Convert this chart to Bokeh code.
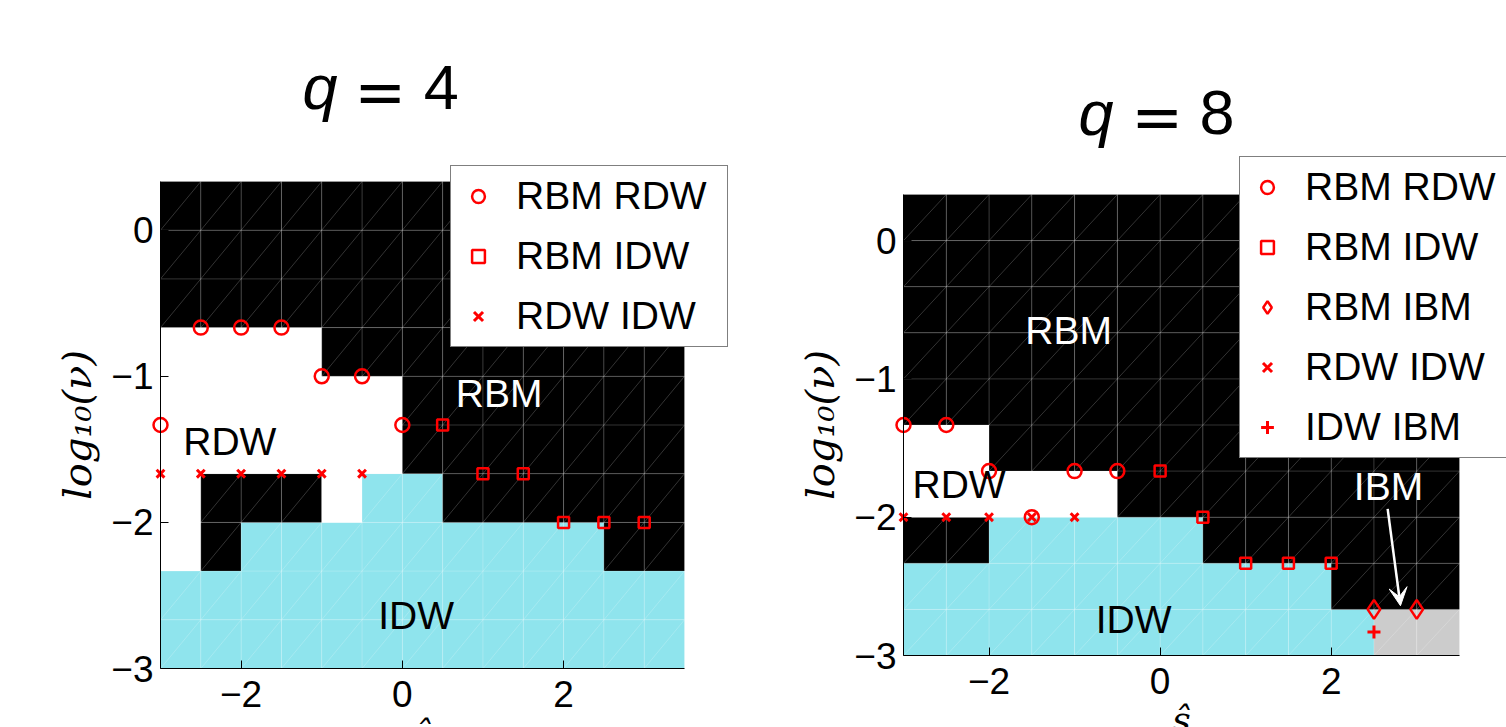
from bokeh.plotting import figure
from bokeh.layouts import row
from bokeh.models import (Range1d, FixedTicker, Legend, LegendItem, Label,
                          Arrow, VeeHead)
from bokeh.embed import file_html
from bokeh.resources import INLINE

# ---------------- data ----------------
x_edges = [-3.0, -2.5, -2.0, -1.5, -1.0, -0.5, 0.0, 0.5, 1.0, 1.5, 2.0, 2.5, 3.0, 3.5]
y_edges = [-3.0, -8/3, -7/3, -2.0, -5/3, -4/3, -1.0, -2/3, -1/3, 0.0, 1/3]

phase_colors = {"B": "#000000", "W": "#ffffff", "C": "#8fe4ed", "G": "#cccccc"}

# phase of each cell, rows listed from bottom (y=-3) to top; B=RBM W=RDW C=IDW G=IBM
q4_phase_rows = [
    "CCCCCCCCCCCCC",
    "CCCCCCCCCCCCC",
    "WBCCCCCCCCCBB",
    "WBBBWCCBBBBBB",
    "WWWWWWBBBBBBB",
    "WWWWWWBBBBBBB",
    "WWWWBBBBBBBBB",
    "BBBBBBBBBBBBB",
    "BBBBBBBBBBBBB",
    "BBBBBBBBBBBBB",
]
q8_phase_rows = [
    "CCCCCCCCCCCGG",
    "CCCCCCCCCCBBB",
    "BBCCCCCBBBBBB",
    "WWWWWBBBBBBBB",
    "WWBBBBBBBBBBB",
    "BBBBBBBBBBBBB",
    "BBBBBBBBBBBBB",
    "BBBBBBBBBBBBB",
    "BBBBBBBBBBBBB",
    "BBBBBBBBBBBBB",
]

# transition points, q = 4
q4_rbm_rdw_x = [-2.5, -2.0, -1.5, -1.0, -0.5, -3.0, 0.0]
q4_rbm_rdw_y = [-2/3, -2/3, -2/3, -1.0, -1.0, -4/3, -4/3]
q4_rbm_idw_x = [0.5, 1.0, 1.5, 2.0, 2.5, 3.0]
q4_rbm_idw_y = [-4/3, -5/3, -5/3, -2.0, -2.0, -2.0]
q4_rdw_idw_x = [-3.0, -2.5, -2.0, -1.5, -1.0, -0.5]
q4_rdw_idw_y = [-5/3, -5/3, -5/3, -5/3, -5/3, -5/3]

# transition points, q = 8
q8_rbm_rdw_x = [-3.0, -2.5, -2.0, -1.0, -0.5, -1.5]
q8_rbm_rdw_y = [-4/3, -4/3, -5/3, -5/3, -5/3, -2.0]
q8_rbm_idw_x = [0.0, 0.5, 1.0, 1.5, 2.0]
q8_rbm_idw_y = [-5/3, -2.0, -7/3, -7/3, -7/3]
q8_rbm_ibm_x = [2.5, 3.0]
q8_rbm_ibm_y = [-8/3, -8/3]
q8_rdw_idw_x = [-3.0, -2.5, -2.0, -1.5, -1.0]
q8_rdw_idw_y = [-2.0, -2.0, -2.0, -2.0, -2.0]
q8_idw_ibm_x = [2.5]
q8_idw_ibm_y = [-2.83]

x_ticks = [-2, 0, 2]
y_ticks = [-3, -2, -1, 0]
x_tick_labels = {-2: "\u22122", 0: "0", 2: "2"}
y_tick_labels = {-3: "\u22123", -2: "\u22122", -1: "\u22121", 0: "0"}

SANS = "Liberation Sans"
SERIF = "DejaVu Serif"
RED = "#ff0000"


def make_panel(width, height, box):
    """box = (left, top, right, bottom) pixel position of the data area."""
    bl, bt, br, bb = box
    xs = (x_edges[-1] - x_edges[0]) / (br - bl)
    ys = (y_edges[-1] - y_edges[0]) / (bb - bt)
    xr = Range1d(x_edges[0] - bl * xs, x_edges[-1] + (width - br) * xs)
    yr = Range1d(y_edges[0] - (height - bb) * ys, y_edges[-1] + bt * ys)
    p = figure(width=width, height=height, frame_width=width, frame_height=height,
               min_border=0, x_range=xr, y_range=yr,
               output_backend="svg", toolbar_location=None)
    p.title.visible = False
    p.outline_line_color = None
    p.grid.visible = False
    p.background_fill_color = "white"
    p.border_fill_color = "white"
    return p


def draw_cells(p, rows):
    L, R, Bt, T, Cc = [], [], [], [], []
    for j, rowstr in enumerate(rows):
        for i, ch in enumerate(rowstr):
            L.append(x_edges[i]); R.append(x_edges[i + 1])
            Bt.append(y_edges[j]); T.append(y_edges[j + 1])
            Cc.append(phase_colors[ch])
    p.quad(left=L, right=R, bottom=Bt, top=T, fill_color=Cc, line_color=None)

    sx0, sy0, sx1, sy1 = [], [], [], []
    for xe in x_edges:
        sx0.append(xe); sx1.append(xe); sy0.append(y_edges[0]); sy1.append(y_edges[-1])
    for ye in y_edges:
        sy0.append(ye); sy1.append(ye); sx0.append(x_edges[0]); sx1.append(x_edges[-1])
    for i in range(len(x_edges) - 1):
        for j in range(len(y_edges) - 1):
            sx0.append(x_edges[i]); sy0.append(y_edges[j])
            sx1.append(x_edges[i + 1]); sy1.append(y_edges[j + 1])
    p.segment(x0=sx0, y0=sy0, x1=sx1, y1=sy1, line_color="white",
              line_alpha=0.2, line_width=1)


def style_axes(p):
    for ax in (p.xaxis[0], p.yaxis[0]):
        ax.fixed_location = -3
        ax.axis_line_color = "black"
        ax.axis_line_width = 1
        ax.major_tick_in = 8
        ax.major_tick_out = 0
        ax.minor_tick_line_color = None
        ax.major_tick_line_color = "black"
        ax.major_label_text_font = SANS
        ax.major_label_text_font_size = "37px"
        ax.major_label_text_color = "black"
    p.xaxis.bounds = (x_edges[0], x_edges[-1])
    p.yaxis.bounds = (y_edges[0], y_edges[-1])
    p.xaxis.ticker = FixedTicker(ticks=x_ticks)
    p.xaxis.major_label_overrides = x_tick_labels
    p.xaxis.major_label_standoff = 12
    p.yaxis.ticker = FixedTicker(ticks=y_ticks)
    p.yaxis.major_label_overrides = y_tick_labels
    p.yaxis.major_label_standoff = 7
    p.yaxis.axis_label = "log\u2081\u2080(\u03bd)"
    p.yaxis.axis_label_text_font = SERIF
    p.yaxis.axis_label_text_font_style = "italic"
    p.yaxis.axis_label_text_font_size = "40px"
    p.yaxis.axis_label_text_color = "black"
    p.yaxis.axis_label_standoff = 8


def add_text(p, x, y, text, color, size="39px", font=SANS, style="normal",
             baseline="middle"):
    p.add_layout(Label(x=x, y=y, text=text, text_color=color, text_font=font,
                       text_font_size=size, text_font_style=style,
                       text_align="center", text_baseline=baseline))


def add_title(p, xq, xeq, xn, y, dy_eq, num):
    add_text(p, xq, y, "q", "black", size="63px", style="italic", baseline="alphabetic")
    add_text(p, xeq, y - dy_eq, "=", "black", size="62px", font="DejaVu Sans",
             baseline="alphabetic")
    add_text(p, xn, y, num, "black", size="63px", baseline="alphabetic")


def style_legend(leg):
    leg.label_text_font = SANS
    leg.label_text_font_size = "39px"
    leg.label_text_color = "black"
    leg.glyph_width = 38
    leg.glyph_height = 32
    leg.label_standoff = 19
    leg.label_width = 203
    leg.padding = 8
    leg.spacing = 16
    leg.margin = 0
    leg.border_line_color = "black"
    leg.border_line_width = 1
    leg.background_fill_color = "white"
    leg.background_fill_alpha = 1.0


# ---------------- q = 4 ----------------
p1 = make_panel(760, 727, (160, 181, 684, 668))
draw_cells(p1, q4_phase_rows)
style_axes(p1)
r_a = p1.scatter(q4_rbm_rdw_x, q4_rbm_rdw_y, marker="circle", size=14,
                 fill_color=None, line_color=RED, line_width=2.5)
r_b = p1.scatter(q4_rbm_idw_x, q4_rbm_idw_y, marker="square", size=11,
                 fill_color=None, line_color=RED, line_width=2.5)
r_c = p1.scatter(q4_rdw_idw_x, q4_rdw_idw_y, marker="x", size=11,
                 line_color=RED, line_width=3)
leg1 = Legend(items=[LegendItem(label="RBM RDW", renderers=[r_a]),
                     LegendItem(label="RBM IDW", renderers=[r_b]),
                     LegendItem(label="RDW IDW", renderers=[r_c])],
              location=(450, 380))
style_legend(leg1)
p1.add_layout(leg1)

add_text(p1, -2.14, -1.445, "RDW", "black")
add_text(p1, 1.20, -1.117, "RBM", "white")
add_text(p1, 0.17, -2.64, "IDW", "black")
add_title(p1, -1.02, -0.273, 0.484, 0.979, 0.034, "4")
# x label (mostly below the window, as in the original)
add_text(p1, 0.25, -3.445, "\u015d", "black", size="36px", font=SERIF, style="italic",
         baseline="alphabetic")

# ---------------- q = 8 ----------------
p2 = make_panel(746, 727, (143, 194, 699, 655))
draw_cells(p2, q8_phase_rows)
style_axes(p2)
s_a = p2.scatter(q8_rbm_rdw_x, q8_rbm_rdw_y, marker="circle", size=14,
                 fill_color=None, line_color=RED, line_width=2.5)
s_b = p2.scatter(q8_rbm_idw_x, q8_rbm_idw_y, marker="square", size=11,
                 fill_color=None, line_color=RED, line_width=2.5)
s_c = p2.scatter(q8_rbm_ibm_x, q8_rbm_ibm_y, marker="diamond", size=19,
                 fill_color=None, line_color=RED, line_width=2.5)
s_d = p2.scatter(q8_rdw_idw_x, q8_rdw_idw_y, marker="x", size=11,
                 line_color=RED, line_width=3)
s_e = p2.scatter(q8_idw_ibm_x, q8_idw_ibm_y, marker="cross", size=13,
                 line_color=RED, line_width=3)
leg2 = Legend(items=[LegendItem(label="RBM RDW", renderers=[s_a]),
                     LegendItem(label="RBM IDW", renderers=[s_b]),
                     LegendItem(label="RBM IBM", renderers=[s_c]),
                     LegendItem(label="RDW IDW", renderers=[s_d]),
                     LegendItem(label="IDW IBM", renderers=[s_e])],
              location=(479, 269))
style_legend(leg2)
p2.add_layout(leg2)

add_text(p2, -1.07, -0.65, "RBM", "white")
add_text(p2, -2.35, -1.765, "RDW", "black")
add_text(p2, -0.31, -2.74, "IDW", "black")
add_text(p2, 2.67, -1.776, "IBM", "white")
p2.add_layout(Arrow(end=VeeHead(size=18, fill_color="white", line_color="white"),
                    x_start=2.66, y_start=-1.94, x_end=2.81, y_end=-2.64,
                    line_color="white", line_width=2.5))
add_title(p2, -0.748, -0.035, 0.666, 0.924, 0.036, "8")
# x label (partly below the window, as in the original)
add_text(p2, 0.25, -3.463, "\u015d", "black", size="36px", font=SERIF, style="italic",
         baseline="alphabetic")

layout = row(p1, p2)
open("out.html", "w").write(file_html(layout, INLINE))
